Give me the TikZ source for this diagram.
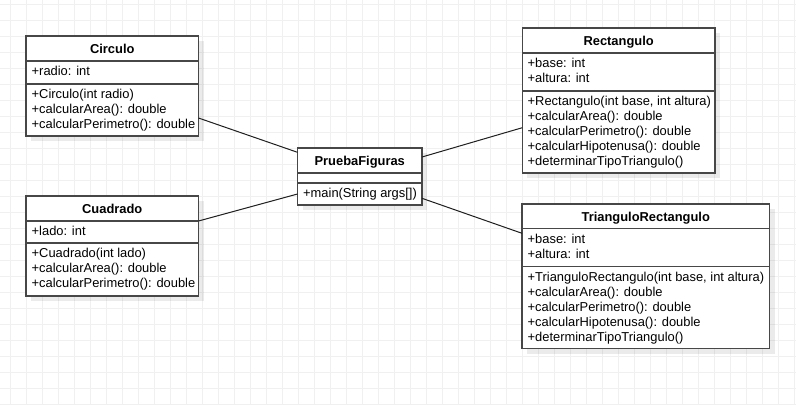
\documentclass[tikz,border=0pt]{standalone}
\usepackage{fontspec}
\setmainfont{Liberation Sans}
\begin{document}
\begin{tikzpicture}[x=1pt,y=-1pt,
  gridline/.style={line width=0.8pt, draw=black!6},
  umlbox/.style={draw=black!72, line width=1.3pt, fill=white, outer sep=0pt, inner sep=0pt, anchor=north west},
  shadowbox/.style={fill=black, opacity=0.08, draw=none, outer sep=0pt, inner sep=0pt, anchor=north west},
  divider/.style={draw=black!72, line width=1.3pt},
  member/.style={font=\fontsize{12.9pt}{15pt}\selectfont, anchor=base west, inner sep=0pt},
  header/.style={font=\fontsize{12.9pt}{15pt}\selectfont\bfseries, anchor=base, inner sep=0pt},
  assoc/.style={draw=black!88, line width=1pt}
]
\useasboundingbox (0,0) rectangle (796,405);
\fill[white] (0,0) rectangle (796,405);
% grid
\foreach \gx in {10,26,...,794} { \draw[gridline] (\gx,0) -- (\gx,405); }
\foreach \gy in {4,20,...,404} { \draw[gridline] (0,\gy) -- (796,\gy); }

% shadows
\node[shadowbox, minimum width=172.5pt, minimum height=100pt] (circ-sh) at (31,41) {};
\node[shadowbox, minimum width=172.5pt, minimum height=100pt] (cuad-sh) at (31,201) {};
\node[shadowbox, minimum width=124.5pt, minimum height=57pt] (pf-sh) at (302.5,153) {};
\node[shadowbox, minimum width=192.7pt, minimum height=145pt] (rect-sh) at (527.3,33) {};
\node[shadowbox, minimum width=247.5pt, minimum height=144.5pt] (tri-sh) at (527,209) {};

% Circulo
\node[umlbox, minimum width=172.5pt, minimum height=100pt] (circ) at (26,36) {};
\draw[divider] (circ.west |- 0,61) -- (circ.east |- 0,61);
\draw[divider] (circ.west |- 0,84) -- (circ.east |- 0,84);
\node[header] (circ-t) at (112.25,53) {Circulo};
\node[member] (circ-a1) at (31.5,75.5) {+radio: int};
\node[member] (circ-m1) at (31.5,98.5) {+Circulo(int radio)};
\node[member] (circ-m2) at (31.5,113.5) {+calcularArea(): double};
\node[member] (circ-m3) at (31.5,128.5) {+calcularPerimetro(): double};

% Cuadrado
\node[umlbox, minimum width=172.5pt, minimum height=100pt] (cuad) at (26,196) {};
\draw[divider] (cuad.west |- 0,221) -- (cuad.east |- 0,221);
\draw[divider] (cuad.west |- 0,243) -- (cuad.east |- 0,243);
\node[header] (cuad-t) at (112.25,213) {Cuadrado};
\node[member] (cuad-a1) at (31.5,235.5) {+lado: int};
\node[member] (cuad-m1) at (31.5,257.5) {+Cuadrado(int lado)};
\node[member] (cuad-m2) at (31.5,272.5) {+calcularArea(): double};
\node[member] (cuad-m3) at (31.5,287.5) {+calcularPerimetro(): double};

% PruebaFiguras
\node[umlbox, minimum width=124.5pt, minimum height=57pt] (pf) at (297.5,148) {};
\draw[divider] (pf.west |- 0,173) -- (pf.east |- 0,173);
\draw[divider] (pf.west |- 0,183) -- (pf.east |- 0,183);
\node[header] (pf-t) at (359.75,165) {PruebaFiguras};
\node[member] (pf-m1) at (303,197.5) {+main(String args[])};

% Rectangulo
\node[umlbox, minimum width=192.7pt, minimum height=145pt] (rect) at (522.3,28) {};
\draw[divider] (rect.west |- 0,53) -- (rect.east |- 0,53);
\draw[divider] (rect.west |- 0,91) -- (rect.east |- 0,91);
\node[header] (rect-t) at (618.65,45) {Rectangulo};
\node[member] (rect-a1) at (527.5,67.5) {+base: int};
\node[member] (rect-a2) at (527.5,82.5) {+altura: int};
\node[member] (rect-m1) at (527.5,105.5) {+Rectangulo(int base, int altura)};
\node[member] (rect-m2) at (527.5,120.5) {+calcularArea(): double};
\node[member] (rect-m3) at (527.5,135.5) {+calcularPerimetro(): double};
\node[member] (rect-m4) at (527.5,150.5) {+calcularHipotenusa(): double};
\node[member] (rect-m5) at (527.5,165.5) {+determinarTipoTriangulo()};

% TrianguloRectangulo
\node[umlbox, minimum width=247.5pt, minimum height=144.5pt] (tri) at (522,204) {};
\draw[divider] (tri.west |- 0,228.5) -- (tri.east |- 0,228.5);
\draw[divider] (tri.west |- 0,266.5) -- (tri.east |- 0,266.5);
\node[header] (tri-t) at (645.75,221) {TrianguloRectangulo};
\node[member] (tri-a1) at (527.5,243) {+base: int};
\node[member] (tri-a2) at (527.5,258) {+altura: int};
\node[member] (tri-m1) at (527.5,281) {+TrianguloRectangulo(int base, int altura)};
\node[member] (tri-m2) at (527.5,296) {+calcularArea(): double};
\node[member] (tri-m3) at (527.5,311) {+calcularPerimetro(): double};
\node[member] (tri-m4) at (527.5,326) {+calcularHipotenusa(): double};
\node[member] (tri-m5) at (527.5,341) {+determinarTipoTriangulo()};

% associations
\draw[assoc] ([yshift=-82pt]circ.north east) -- ([yshift=-4.3pt]pf.north west);
\draw[assoc] ([yshift=-25pt]cuad.north east) -- ([yshift=-46pt]pf.north west);
\draw[assoc] ([yshift=-9pt]pf.north east) -- ([yshift=-99.7pt]rect.north west);
\draw[assoc] ([yshift=-50.3pt]pf.north east) -- ([yshift=-29.3pt]tri.north west);
\end{tikzpicture}
\end{document}
